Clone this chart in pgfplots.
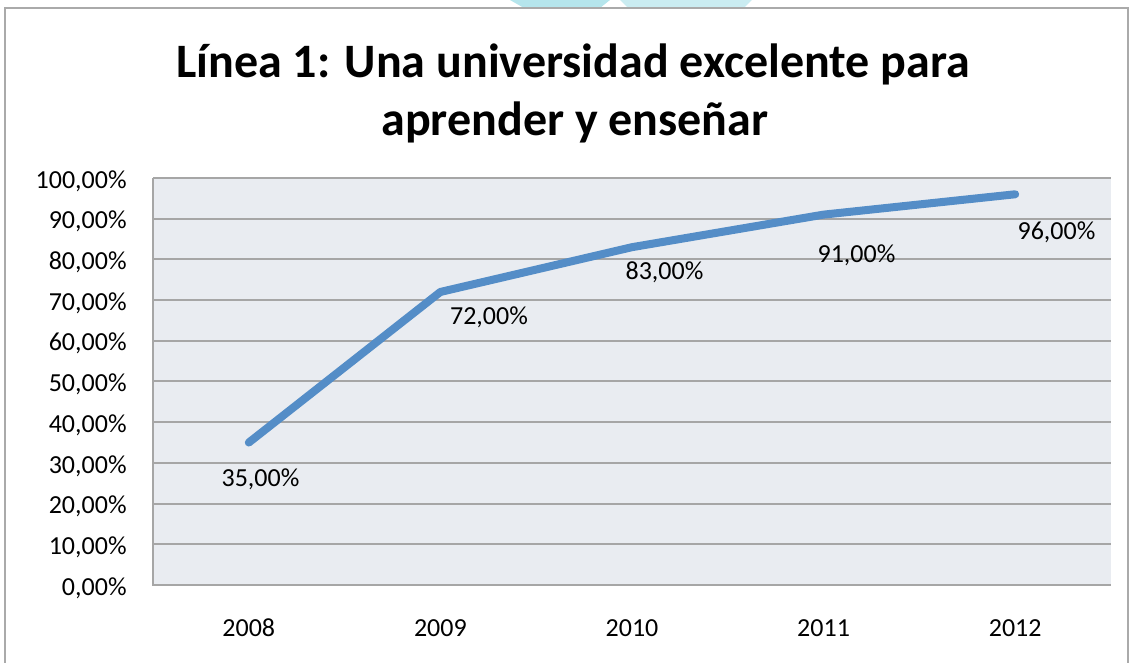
\documentclass[border=0pt]{standalone}
\usepackage{fontspec}
\setmainfont{Carlito}
\usepackage{pgfplots}
\usepackage{pgfplotstable}
\pgfplotsset{compat=1.18}
\definecolor{linecol}{RGB}{84,141,199}
\definecolor{plotbg}{RGB}{233,236,241}
\definecolor{gridcol}{RGB}{166,166,166}
\definecolor{framecol}{RGB}{170,170,170}
\definecolor{wmark}{RGB}{150,218,228}
\pgfplotstableread{
x y dx dy
0 35 5.85 -21.75
1 72 24.3 -16.5
2 83 16.25 -16.4
3 91 16.45 -23.7
4 96 20.65 -22.85
}\datatable
\begin{document}
\begin{tikzpicture}
\useasboundingbox (0,0) rectangle (565.5pt,331.5pt);
\fill[white] (0,0) rectangle (565.5pt,331.5pt);
% faint watermark at top
\fill[wmark, opacity=0.7] (255pt,331.5pt) -- (262pt,327.5pt) -- (300pt,327.5pt) -- (305pt,331.5pt) -- cycle;
\fill[wmark, opacity=0.5] (310pt,331.5pt) -- (314pt,327.5pt) -- (372pt,327.5pt) -- (376pt,331.5pt) -- cycle;
% chart frame
\draw[framecol, line width=1pt] (2.5pt,-5pt) -- (2.5pt,327.5pt) -- (564pt,327.5pt) -- (564pt,-5pt);
% title
\node[font=\fontsize{24}{29}\selectfont\bfseries, anchor=base, inner sep=0pt] at (286.5pt,292.5pt) {Línea 1: Una universidad excelente para};
\node[font=\fontsize{24}{29}\selectfont\bfseries, anchor=base, inner sep=0pt] at (287.5pt,263.5pt) {aprender y enseñar};
\begin{axis}[
  at={(76.5pt,39pt)}, anchor=south west,
  scale only axis, width=479pt, height=203.5pt,
  xmin=-0.5, xmax=4.5, ymin=0, ymax=100,
  axis background/.style={fill=plotbg},
  axis line style={draw=none},
  major tick length=0pt,
  xtick={0,1,2,3,4},
  xticklabels={2008,2009,2010,2011,2012},
  ytick={0,10,20,30,40,50,60,70,80,90,100},
  yticklabels={0{,}00\%,10{,}00\%,20{,}00\%,30{,}00\%,40{,}00\%,50{,}00\%,60{,}00\%,70{,}00\%,80{,}00\%,90{,}00\%,100{,}00\%},
  ymajorgrids,
  major grid style={draw=gridcol, line width=1pt},
  tick label style={font=\fontsize{13}{15}\selectfont, text=black},
  yticklabel style={anchor=east, inner sep=0pt, xshift=-13pt, yshift=-1.5pt},
  xticklabel style={anchor=base, inner sep=0pt, yshift=-26pt},
  /pgf/number format/assume math mode=true,
  clip=false,
]
\draw[gridcol, line width=1pt] (rel axis cs:0,1) -- (rel axis cs:0,0) -- (rel axis cs:1,0);
\addplot[linecol, line width=4pt, line cap=round, line join=round, mark=none,
  visualization depends on={\thisrow{dx}\as\dx},
  visualization depends on={\thisrow{dy}\as\dy},
  point meta=y,
  nodes near coords={\pgfmathprintnumber[fixed,fixed zerofill,precision=2,use comma]{\pgfplotspointmeta}\%},
  every node near coord/.append style={anchor=base, inner sep=0pt, xshift=\dx, yshift=\dy, text=black, font=\fontsize{13}{15}\selectfont},
] table[x=x, y=y] {\datatable};
\end{axis}
\end{tikzpicture}
\end{document}
